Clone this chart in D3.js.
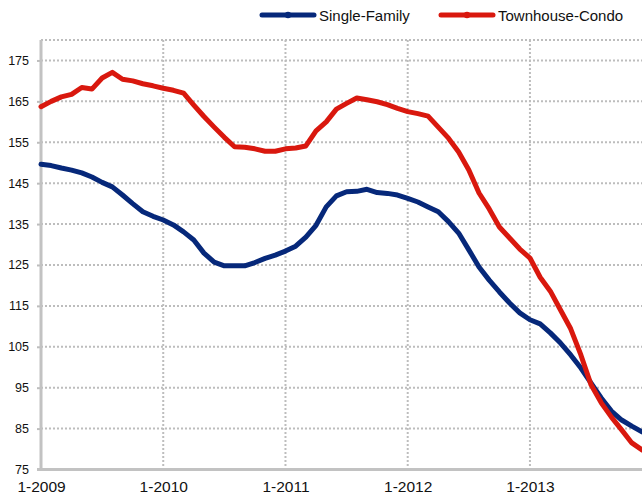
<!DOCTYPE html>
<html>
<head>
<meta charset="utf-8">
<script src="https://cdn.jsdelivr.net/npm/d3@7"></script>
<style>
  body { margin: 0; background: #fff; }
  svg { display: block; font-family: "Liberation Sans", Arial, sans-serif; }
</style>
</head>
<body>
<svg id="chart" width="642" height="498"></svg>
<script>
// monthly index values, 1-2009 .. 12-2013
const singleFamily = [
  149.6, 149.3, 148.7, 148.2, 147.5, 146.5, 145.2, 144.1, 142.1, 140.0, 138.0, 136.9,
  136.0, 134.8, 133.1, 131.1, 127.9, 125.7, 124.8, 124.8, 124.8, 125.6, 126.6, 127.4,
  128.4, 129.6, 131.8, 134.7, 139.2, 141.9, 142.9, 143.0, 143.5, 142.7, 142.5, 142.1,
  141.3, 140.4, 139.2, 138.0, 135.6, 132.8, 128.7, 124.5, 121.3, 118.4, 115.7, 113.3,
  111.6, 110.6, 108.4, 105.9, 103.0, 99.8, 96.1, 92.5, 89.3, 87.1, 85.6, 84.2
]
const townhouseCondo = [
  163.7, 165.0, 166.1, 166.7, 168.4, 168.0, 170.7, 172.1, 170.4, 170.0, 169.3, 168.8,
  168.2, 167.7, 167.0, 164.1, 161.3, 158.7, 156.2, 153.9, 153.8, 153.4, 152.8, 152.8,
  153.4, 153.6, 154.1, 157.8, 160.0, 163.1, 164.5, 165.8, 165.4, 164.9, 164.2, 163.3,
  162.5, 162.0, 161.4, 158.7, 156.0, 152.6, 148.2, 142.6, 138.7, 134.3, 131.6, 128.9,
  126.7, 122.0, 118.6, 114.0, 109.4, 103.0, 95.7, 91.3, 87.8, 84.7, 81.5, 79.8
]
const years = [2009, 2010, 2011, 2012, 2013]
const months = singleFamily.map((d, i) => (i % 12 + 1) + '-' + (2009 + Math.floor(i / 12)))
const yTicks = [75, 85, 95, 105, 115, 125, 135, 145, 155, 165, 175]
const seriesNames = ['Single-Family', 'Townhouse-Condo']
const colors = ['#06287a', '#d9180e']

const svg = d3.select('#chart')
const plot = {left: 41, right: 642, top: 40, bottom: 469.5}

const x = d3.scaleLinear().domain([0, months.length - 1]).range([plot.left, plot.right])
const y = d3.scaleLinear().domain([75, 180]).range([plot.bottom, plot.top])

// horizontal dotted grid
svg.append('g')
  .selectAll('line')
  .data(yTicks.filter(d => d > 75).concat([180]))
  .join('line')
  .attr('x1', plot.left).attr('x2', plot.right)
  .attr('y1', d => y(d)).attr('y2', d => y(d))
  .attr('stroke', '#bdbdbd')
  .attr('stroke-width', 2)
  .attr('stroke-dasharray', '2,2')

// vertical dotted grid at each January
svg.append('g')
  .selectAll('line')
  .data(years.slice(1).concat([2014]))
  .join('line')
  .attr('x1', d => x((d - 2009) * 12)).attr('x2', d => x((d - 2009) * 12))
  .attr('y1', plot.top).attr('y2', plot.bottom)
  .attr('stroke', '#bdbdbd')
  .attr('stroke-width', 2)
  .attr('stroke-dasharray', '2,2')

// axes
const yAxis = svg.append('g')
  .attr('transform', `translate(${plot.left},0)`)
  .call(d3.axisLeft(y).tickValues(yTicks).tickSize(4).tickPadding(8).tickFormat(d3.format('d')))
yAxis.select('.domain').remove()
yAxis.selectAll('.tick line').attr('stroke', '#bdbdbd').attr('stroke-width', 2)
yAxis.selectAll('.tick text')
  .attr('fill', '#111')
  .style('font-size', '12.5px')
  .style('font-family', '"Liberation Sans", Arial, sans-serif')

svg.append('line')
  .attr('x1', plot.left).attr('x2', plot.left)
  .attr('y1', plot.top).attr('y2', plot.bottom)
  .attr('stroke', '#c2c2c2').attr('stroke-width', 3)
svg.append('line')
  .attr('x1', plot.left - 4).attr('x2', plot.right)
  .attr('y1', plot.bottom).attr('y2', plot.bottom)
  .attr('stroke', '#c2c2c2').attr('stroke-width', 3)

const xAxis = svg.append('g')
  .attr('transform', `translate(0,${plot.bottom})`)
  .call(d3.axisBottom(x)
    .tickValues(years.map(d => (d - 2009) * 12))
    .tickSize(0).tickPadding(11)
    .tickFormat(i => months[i]))
xAxis.select('.domain').remove()
xAxis.selectAll('.tick text')
  .attr('fill', '#111')
  .style('font-size', '15.5px')
  .style('font-family', '"Liberation Sans", Arial, sans-serif')

// lines
const line = d3.line().x((d, i) => x(i)).y(d => y(d))
;[singleFamily, townhouseCondo].forEach((s, k) => {
  svg.append('path')
    .datum(s)
    .attr('d', line)
    .attr('fill', 'none')
    .attr('stroke', colors[k])
    .attr('stroke-width', 5)
    .attr('stroke-linejoin', 'round')
    .attr('stroke-linecap', 'round')
})

// legend
const legendX = [262, 441]
const legend = svg.append('g')
seriesNames.forEach((name, k) => {
  const g = legend.append('g').attr('transform', `translate(${legendX[k]},15)`)
  g.append('line')
    .attr('x1', 0).attr('x2', 52)
    .attr('stroke', colors[k]).attr('stroke-width', 5)
    .attr('stroke-linecap', 'round')
  g.append('circle').attr('cx', 26).attr('r', 3.2).attr('fill', colors[k])
  g.append('text')
    .attr('x', 57).attr('y', 5.5)
    .attr('fill', '#111')
    .style('font-size', '15px')
    .text(name)
})
</script>
</body>
</html>
